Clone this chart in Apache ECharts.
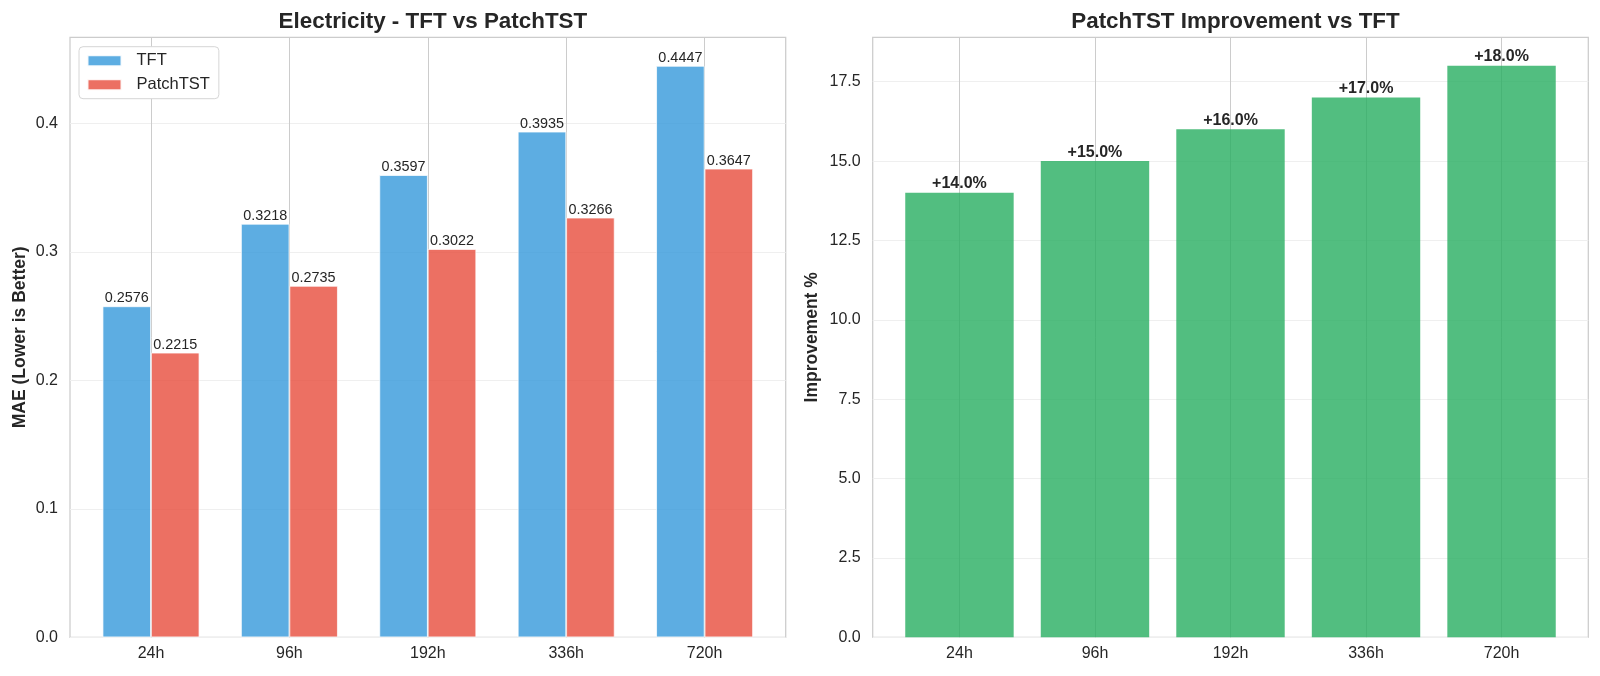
<!DOCTYPE html>
<html>
<head>
<meta charset="utf-8">
<script src="https://cdn.jsdelivr.net/npm/echarts@6/dist/echarts.min.js"></script>
<style>html,body{margin:0;padding:0;background:#fff;}#c{width:1600px;height:676px;}</style>
</head>
<body>
<div id="c"></div>
<script>
const categories = ['24h', '96h', '192h', '336h', '720h'];
const tftMAE = [0.2576, 0.3218, 0.3597, 0.3935, 0.4447];
const patchMAE = [0.2215, 0.2735, 0.3022, 0.3266, 0.3647];
const improvement = [14.0, 15.0, 16.0, 17.0, 18.0];
const leftTicks = [0.0, 0.1, 0.2, 0.3, 0.4];
const rightTicks = [0.0, 2.5, 5.0, 7.5, 10.0, 12.5, 15.0, 17.5];

const FONT = "'Liberation Sans', Arial, sans-serif";
const TXT = '#262626';
const leftMax = Math.max(...tftMAE, ...patchMAE) * 1.05;
const rightMax = Math.max(...improvement) * 1.05;

const chart = echarts.init(document.getElementById('c'), null, {renderer: 'canvas'});

function frameY(ticks, max, name, gap, grid) {
  return {
    type: 'value', gridIndex: grid, min: ticks[0], max: max, interval: ticks[1] - ticks[0],
    axisLine: {show: false}, axisTick: {show: false},
    axisLabel: {show: true, showMaxLabel: false, margin: 12, color: TXT, fontSize: 16, fontFamily: FONT,
      formatter: v => v.toFixed(1)},
    splitLine: {show: true, showMaxLine: false, lineStyle: {color: '#efefef', width: 1}},
    name: name, nameLocation: 'middle', nameGap: gap, nameRotate: 90,
    nameTextStyle: {color: TXT, fontSize: 17.5, fontWeight: 'bold', fontFamily: FONT}
  };
}
function dataX(grid) {
  return {
    type: 'category', gridIndex: grid, data: categories, boundaryGap: true,
    axisLine: {show: false}, axisTick: {show: false},
    axisLabel: {color: TXT, fontSize: 16, fontFamily: FONT, margin: 8},
    splitLine: {show: true, alignWithLabel: true, lineStyle: {color: '#cccccc', width: 1}}
  };
}

const option = {
  backgroundColor: '#ffffff',
  animation: false,
  title: [
    {text: 'Electricity - TFT vs PatchTST', left: 427.9, top: 6, textAlign: 'center',
     textStyle: {fontSize: 22.4, fontWeight: 'bold', color: TXT, fontFamily: FONT}},
    {text: 'PatchTST Improvement vs TFT', left: 1230.5, top: 6, textAlign: 'center',
     textStyle: {fontSize: 22.4, fontWeight: 'bold', color: TXT, fontFamily: FONT}}
  ],
  legend: {
    data: [
      {name: 'TFT', itemStyle: {color: '#5dade2', opacity: 1}},
      {name: 'PatchTST', itemStyle: {color: '#ec7063', opacity: 1}}
    ],
    orient: 'vertical', left: 79, top: 46.7,
    itemWidth: 34, itemHeight: 11, itemGap: 7, icon: 'rect',
    padding: [5.5, 9, 5.5, 7.5],
    backgroundColor: '#ffffff', borderColor: '#d6d6d6', borderWidth: 1, borderRadius: 4,
    textStyle: {color: TXT, fontSize: 16.5, fontFamily: FONT, lineHeight: 17, padding: [0, 0, 0, 10]}
  },
  grid: [
    {left: 70, top: 37.3, width: 715.7, height: 600, show: true, borderColor: '#cccccc', borderWidth: 1.25, backgroundColor: 'transparent'},
    {left: 81.8, top: 37.3, width: 692, height: 600},
    {left: 872.7, top: 37.3, width: 715.6, height: 600, show: true, borderColor: '#cccccc', borderWidth: 1.25, backgroundColor: 'transparent'},
    {left: 891.7, top: 37.3, width: 677.6, height: 600}
  ],
  xAxis: [
    {type: 'value', gridIndex: 0, show: false, min: 0, max: 1, splitLine: {show: false}},
    dataX(1),
    {type: 'value', gridIndex: 2, show: false, min: 0, max: 1, splitLine: {show: false}},
    dataX(3)
  ],
  yAxis: [
    frameY(leftTicks, leftMax, 'MAE (Lower is Better)', 41, 0),
    {type: 'value', gridIndex: 1, show: false, min: 0, max: leftMax, splitLine: {show: false}},
    frameY(rightTicks, rightMax, 'Improvement %', 52, 2),
    {type: 'value', gridIndex: 3, show: false, min: 0, max: rightMax, splitLine: {show: false}}
  ],
  series: [
    {name: 'TFT', type: 'bar', xAxisIndex: 1, yAxisIndex: 1, data: tftMAE,
     barWidth: '35%', barGap: '0%',
     itemStyle: {color: 'rgba(52,152,219,0.8)', borderColor: 'rgba(255,255,255,0.9)', borderWidth: 0.8},
     label: {show: true, position: 'top', distance: 1, color: TXT, fontSize: 14.4, fontFamily: FONT,
       formatter: p => p.value.toFixed(4)}},
    {name: 'PatchTST', type: 'bar', xAxisIndex: 1, yAxisIndex: 1, data: patchMAE,
     barWidth: '35%', barGap: '0%',
     itemStyle: {color: 'rgba(231,76,60,0.8)', borderColor: 'rgba(255,255,255,0.9)', borderWidth: 0.8},
     label: {show: true, position: 'top', distance: 1, color: TXT, fontSize: 14.4, fontFamily: FONT,
       formatter: p => p.value.toFixed(4)}},
    {name: 'Improvement', type: 'bar', xAxisIndex: 3, yAxisIndex: 3, data: improvement,
     barWidth: '80%',
     itemStyle: {color: 'rgba(39,174,96,0.8)'},
     label: {show: true, position: 'top', distance: 1, color: TXT, fontSize: 16, fontWeight: 'bold', fontFamily: FONT,
       formatter: p => '+' + p.value.toFixed(1) + '%'}}
  ]
};
chart.setOption(option);
</script>
</body>
</html>
